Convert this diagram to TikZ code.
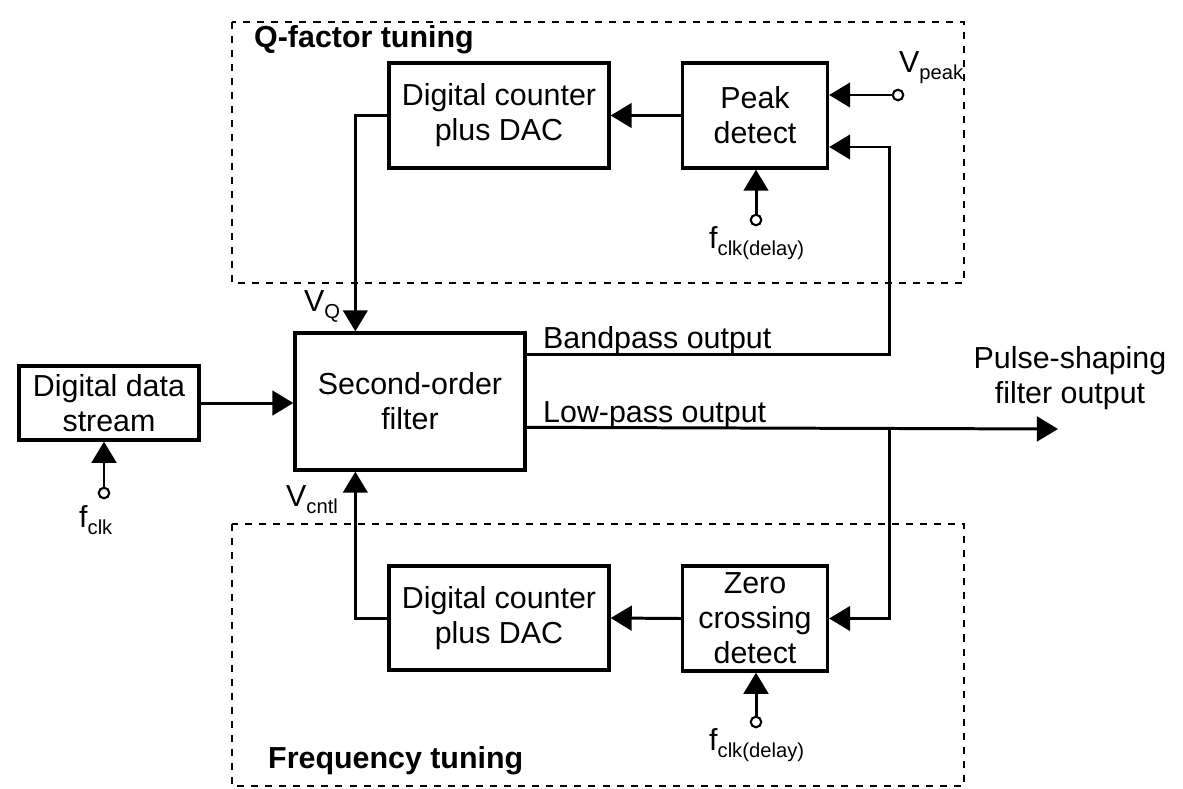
\documentclass[tikz,border=0pt]{standalone}
\usepackage{fontspec}
\setmainfont{Liberation Sans}
\usetikzlibrary{arrows.meta}
\newcommand{\lowsub}[1]{\raisebox{-4pt}{\fontsize{11.5}{12}\selectfont #1}}
\tikzset{
  blk/.style={draw, line width=1.9pt, align=center, inner sep=0pt},
  sig/.style={line width=1.7pt, -{Triangle[length=12pt,width=14pt]}},
  term/.style={circle, draw, line width=1.2pt, fill=white, inner sep=0pt, minimum size=6pt},
  group/.style={draw, dash pattern=on 4pt off 4pt, line width=0.6pt},
}
\begin{document}
\begin{tikzpicture}
      [x=0.02cm, y=-0.02cm, font=\fontsize{17.3}{20}\selectfont]
      \useasboundingbox (0,0) rectangle (1183,788);
      % tuning loops
      \draw[group] (232,22) rectangle (964,283);
      \draw[group] (232,524) rectangle (964,786);
      \node[anchor=base west, font=\fontsize{17.3}{20}\selectfont\bfseries](qtitle) at (248,47) {Q-factor tuning};
      \node[anchor=base west, font=\fontsize{17.3}{20}\selectfont\bfseries](ftitle) at (262,768) {Frequency tuning};
      % blocks
      \node[blk, minimum width=4.4cm, minimum height=2.1cm](dc1) at (499,115.5) {Digital counter\\plus DAC};
      \node[blk, minimum width=2.9cm, minimum height=2.1cm](peak) at (755,115.5) {Peak\\detect};
      \node[blk, minimum width=4.6cm, minimum height=2.74cm](filter) at (410,401.5) {Second-order\\filter};
      \node[blk, minimum width=3.6cm, minimum height=1.48cm](dds) at (109,403) {Digital data\\stream};
      \node[blk, minimum width=4.4cm, minimum height=2.08cm](dc2) at (499,618) {Digital counter\\plus DAC};
      \node[blk, minimum width=2.9cm, minimum height=2.1cm](zero) at (755,618.5) {Zero\\crossing\\detect};
      \node[align=center](pso) at (1070,378) {Pulse-shaping\\filter output};
      % terminals
      \node[term](vpk) at (898,95) {};
      \node[term](clk0) at (104,493) {};
      \node[term](clk1) at (756,220) {};
      \node[term](clk2) at (756,722) {};
      \node[anchor=base west](vpklbl) at (893,72) {V\lowsub{peak}};
      \node[anchor=base west](clk0lbl) at (73,527) {f\lowsub{clk}};
      \node[anchor=base west](clk1lbl) at (703,248) {f\lowsub{clk(delay)}};
      \node[anchor=base west](clk2lbl) at (703,750) {f\lowsub{clk(delay)}};
      \node[anchor=base west](vqlbl) at (298,311) {V\lowsub{Q}};
      \node[anchor=base west](vclbl) at (280,506) {V\lowsub{cntl}};
      \node[anchor=base west](bplbl) at (537,348) {Bandpass output};
      \node[anchor=base west](lplbl) at (537,422) {Low-pass output};
      \coordinate(bpout) at ([yshift=-0.46cm]filter.north east);
      \coordinate(lpout) at ([yshift=-1.92cm]filter.north east);
      \coordinate(bpup) at (889,147);
      \coordinate(lpend) at (1058,429);
      % connections
      \draw[sig](peak.west) -- (dc1.east);
      \draw[sig](zero.west) -- (dc2.east);
      \draw[sig](dc1.west) -| ([xshift=1.24cm]filter.north west);
      \draw[sig](dc2.west) -| ([xshift=1.24cm]filter.south west);
      \draw[sig](dds.east) -- (dds.east -| filter.west);
      \draw[sig](bpout) -| (bpup) -- (bpup -| peak.east);
      \draw[sig](lpout) -- (lpend);
      \draw[sig](bpup |- lpout) |- (zero.east);
      \draw[sig](vpk) -- (vpk -| peak.east);
      \draw[sig](clk0) -- (clk0 |- dds.south);
      \draw[sig](clk1) -- (clk1 |- peak.south);
      \draw[sig](clk2) -- (clk2 |- zero.south);
  \end{tikzpicture}
\end{document}
